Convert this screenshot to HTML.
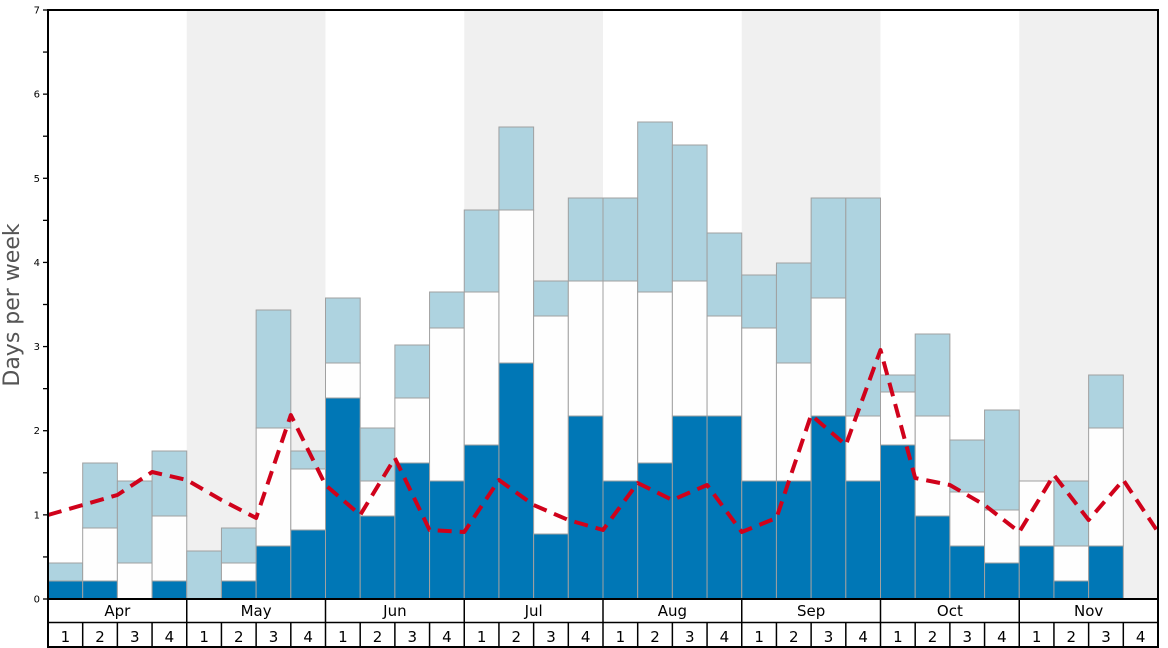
<!DOCTYPE html>
<html><head><meta charset="utf-8"><style>
html,body{margin:0;padding:0;background:#fff;}
svg{display:block;font-family:"DejaVu Sans","Liberation Sans",sans-serif;}
</style></head><body>
<svg id="c" width="1168" height="648" xmlns="http://www.w3.org/2000/svg"></svg>
<script>
const L=48,R=1158,T=10,B=599,W=(R-L)/32;
const d=[[581,581,563],[581,528,463],[599,563,481],[581,516,451],
[599,599,551],[581,563,528],[546,428,310],[530,469,451],
[398,363,298],[516,481,428],[463,398,345],[481,328,292],
[445,292,210],[363,210,127],[534,316,281],[416,281,198],
[481,281,198],[463,292,122],[416,281,145],[416,316,233],
[481,328,275],[481,363,263],[416,298,198],[481,416,198],
[445,392,375],[516,416,334],[546,492,440],[563,510,410],
[546,481,481],[581,546,481],[546,428,375],[599,599,599]];
const line=[515,505,495,472,480,500,518,415,485,515,458,530,532,480,505,520,530,483,500,485,532,518,415,445,350,478,485,505,532,475,520,480,532];
let s='';
[1,3,5,7].forEach(m=>{s+=`<rect x="${L+m*4*W}" y="${T}" width="${4*W}" height="${B-T}" fill="#f0f0f0"/>`;});
d.forEach((v,i)=>{const x=L+i*W;
 const [dk,wh,lb]=v;
 if(lb<wh) s+=`<rect x="${x}" y="${lb}" width="${W}" height="${wh-lb}" fill="#aed3e0" stroke="#a0a0a0" stroke-width="1"/>`;
 if(wh<dk) s+=`<rect x="${x}" y="${wh}" width="${W}" height="${dk-wh}" fill="#fefefe" stroke="#a0a0a0" stroke-width="1"/>`;
 if(dk<B) s+=`<rect x="${x}" y="${dk}" width="${W}" height="${B-dk}" fill="#0077b6" stroke="#a0a0a0" stroke-width="1"/>`;
});
s+=`<polyline fill="none" stroke="#d0021b" stroke-width="4" stroke-dasharray="14,8" stroke-linejoin="round" points="${line.map((y,i)=>(L+i*W)+','+y).join(' ')}"/>`;
s+=`<rect x="${L}" y="${T}" width="${R-L}" height="${B-T}" fill="none" stroke="#000" stroke-width="2"/>`;
for(let k=0;k<=14;k++){const y=B-k*(B-T)/14;s+=`<line x1="${L-5}" x2="${L}" y1="${y}" y2="${y}" stroke="#000" stroke-width="1.3"/>`;
 if(k%2==0) s+=`<text x="${L-8}" y="${y+3.5}" font-size="10" text-anchor="end" fill="#000">${k/2}</text>`;}
s+=`<text transform="translate(19,305) rotate(-90)" font-size="22" text-anchor="middle" fill="#555">Days per week</text>`;
s+=`<line x1="${L}" x2="${R}" y1="622.5" y2="622.5" stroke="#000" stroke-width="1.5"/>`;
s+=`<line x1="${L}" x2="${R}" y1="647" y2="647" stroke="#000" stroke-width="2"/>`;
s+=`<line x1="${L}" x2="${L}" y1="${B}" y2="648" stroke="#000" stroke-width="2"/>`;
s+=`<line x1="${R}" x2="${R}" y1="${B}" y2="648" stroke="#000" stroke-width="2"/>`;
const mo=['Apr','May','Jun','Jul','Aug','Sep','Oct','Nov'];
mo.forEach((m,i)=>{const x=L+i*4*W;
 if(i>0) s+=`<line x1="${x}" x2="${x}" y1="${B}" y2="648" stroke="#000" stroke-width="1.5"/>`;
 s+=`<text x="${x+2*W}" y="616" font-size="15" text-anchor="middle">${m}</text>`;
 for(let w=0;w<4;w++){const wx=x+w*W;
  if(w>0) s+=`<line x1="${wx}" x2="${wx}" y1="622" y2="648" stroke="#000" stroke-width="1.5"/>`;
  s+=`<text x="${wx+W/2}" y="642" font-size="15" text-anchor="middle">${w+1}</text>`;}
});
document.getElementById('c').innerHTML=s;
</script>
</body></html>
